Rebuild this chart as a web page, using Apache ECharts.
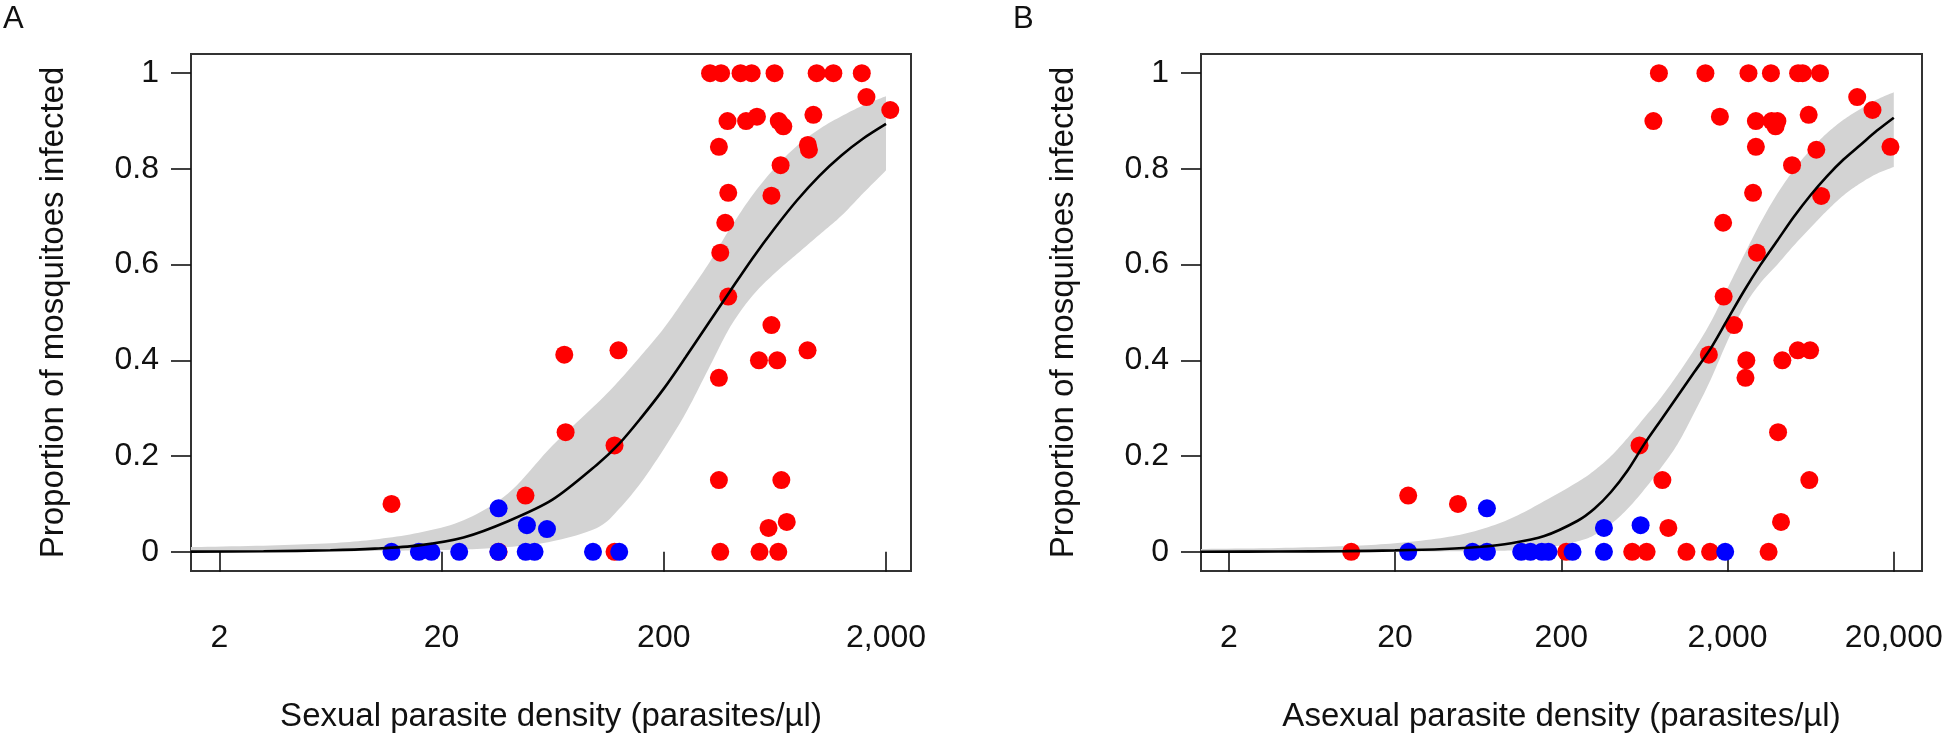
<!DOCTYPE html>
<html>
<head>
<meta charset="utf-8">
<script src="https://cdn.jsdelivr.net/npm/echarts@6/dist/echarts.min.js"></script>
<style>
html,body{margin:0;padding:0;background:#ffffff;}
#chart{width:1950px;height:738px;}
</style>
</head>
<body>
<div id="chart"></div>
<script>
// ---------------- data ----------------
const yTicks = [0, 0.2, 0.4, 0.6, 0.8, 1];
const yTickLabels = ['0', '0.2', '0.4', '0.6', '0.8', '1'];
const xTicksA = [2, 20, 200, 2000];
const xTickLabelsA = ['2', '20', '200', '2,000'];
const xTicksB = [2, 20, 200, 2000, 20000];
const xTickLabelsB = ['2', '20', '200', '2,000', '20,000'];

// Panel A: sexual parasite density vs proportion infected
const redA = [
  [323,1],[362,1],[443,1],[497,1],[630,1],[975,1],[1159,1],[1556,1],
  [1633,0.95],[2090,0.923],
  [387,0.9],[469,0.9],[525,0.909],[658,0.9],[690,0.889],[942,0.913],
  [354,0.846],[890,0.85],[900,0.84],
  [671,0.8077],[390,0.75],[610,0.744],[378,0.6875],[359,0.625],[390,0.5333],
  [610,0.4737],[125,0.4211],[887,0.4211],[71.3,0.4118],[536,0.4],[648,0.4],
  [354,0.3636],[72.3,0.25],[120,0.2222],[354,0.15],[676,0.15],
  [47.7,0.1176],[11.9,0.1],[715,0.0625],[592,0.05],
  [36.1,0],[120,0],[359,0],[539,0],[655,0]
];
const blueA = [
  [11.9,0],[15.8,0],[18.0,0],[24.0,0],[36.0,0],[47.8,0],[52.4,0],[96,0],[126,0],
  [36.1,0.0909],[48.4,0.0556],[59.6,0.0476]
];
// Fitted curve A and its confidence band
const curveXA = [1.49,3.16,6.31,10,15.8,25.1,39.8,63.1,100,126,158,200,251,316,398,501,631,794,1000,1259,1585,2000];
const curveYA = [0.0004,0.0012,0.0033,0.0067,0.0135,0.030,0.064,0.109,0.182,0.226,0.280,0.341,0.407,0.476,0.545,0.613,0.676,0.734,0.785,0.828,0.864,0.894];
const bandLoA = [0.000,0.000,0.001,0.002,0.003,0.005,0.010,0.022,0.050,0.090,0.145,0.215,0.290,0.380,0.470,0.535,0.582,0.622,0.662,0.702,0.750,0.797];
const bandHiA = [0.010,0.013,0.018,0.026,0.040,0.066,0.122,0.222,0.310,0.358,0.410,0.467,0.532,0.600,0.676,0.745,0.802,0.848,0.883,0.910,0.933,0.952];

// Panel B: asexual parasite density vs proportion infected
const redB = [
  [773,1],[1472,1],[2673,1],[3648,1],[5316,1],[5662,1],[7194,1],
  [12050,0.95],[14890,0.923],[19100,0.8462],
  [716,0.9],[1799,0.9091],[2962,0.9],[3681,0.9],[3990,0.9],[3890,0.889],[6152,0.913],
  [2962,0.846],[6839,0.84],[4887,0.8077],[2848,0.75],[7318,0.7436],
  [1882,0.6875],[3003,0.625],[1895,0.5333],[2188,0.4737],
  [5291,0.4211],[6276,0.4211],[1544,0.4118],[2594,0.4],[4272,0.4],[2564,0.3636],
  [4027,0.25],[591,0.2222],[811,0.15],[6209,0.15],[24.0,0.1176],[47.8,0.1],
  [4195,0.0625],[881,0.05],
  [10.9,0],[214,0],[534,0],[652,0],[1132,0],[1570,0],[3532,0]
];
const blueB = [
  [24.0,0],[58.5,0],[71.4,0],[114.8,0],[130.6,0],[152.6,0],[167.5,0],[233.7,0],[361,0],[1936,0],
  [71.4,0.0909],[361,0.05],[600,0.0556]
];
const curveXB = [1.36,3.98,10,20,39.8,63.1,100,158,251,316,398,501,631,794,1000,1259,1585,1995,2512,3162,3981,5012,6310,7943,10000,12589,15849,20000];
const curveYB = [0.0003,0.0007,0.0015,0.003,0.006,0.010,0.018,0.033,0.065,0.090,0.125,0.170,0.225,0.275,0.325,0.375,0.425,0.485,0.545,0.600,0.650,0.700,0.745,0.785,0.820,0.850,0.880,0.907];
const bandLoB = [0.000,0.000,0.000,0.001,0.001,0.002,0.003,0.008,0.022,0.035,0.058,0.090,0.130,0.175,0.225,0.290,0.360,0.440,0.512,0.562,0.600,0.640,0.677,0.713,0.745,0.770,0.790,0.804];
const bandHiB = [0.006,0.008,0.012,0.018,0.030,0.045,0.070,0.106,0.146,0.170,0.200,0.238,0.280,0.322,0.370,0.422,0.480,0.550,0.620,0.688,0.748,0.798,0.840,0.875,0.903,0.925,0.945,0.960];

// ---------------- chart ----------------
const FONT = 'Liberation Sans, Arial, sans-serif';
const TXT = '#111111';
const FS = 32;
const FST = 33;

function pairs(xs, ys) { return xs.map((x, i) => [x, ys[i]]); }

// smooth a pixel-space polyline (Catmull-Rom rendered as many short segments)
function smoothPix(pts, steps) {
  const out = [];
  const n = pts.length;
  for (let i = 0; i < n - 1; i++) {
    const p0 = pts[Math.max(i - 1, 0)], p1 = pts[i], p2 = pts[i + 1], p3 = pts[Math.min(i + 2, n - 1)];
    const c1 = [p1[0] + (p2[0] - p0[0]) / 6, p1[1] + (p2[1] - p0[1]) / 6];
    const c2 = [p2[0] - (p3[0] - p1[0]) / 6, p2[1] - (p3[1] - p1[1]) / 6];
    for (let s = 0; s < steps; s++) {
      const t = s / steps, u = 1 - t;
      out.push([
        u*u*u*p1[0] + 3*u*u*t*c1[0] + 3*u*t*t*c2[0] + t*t*t*p2[0],
        u*u*u*p1[1] + 3*u*u*t*c1[1] + 3*u*t*t*c2[1] + t*t*t*p2[1]
      ]);
    }
  }
  out.push(pts[n - 1]);
  return out;
}

function xAxisDef(gi, min, max, ticks, labels, name) {
  return {
    type: 'log', logBase: 10, gridIndex: gi, min: min, max: max,
    axisLine: { show: false },
    axisTick: { show: true, length: 20, customValues: ticks, lineStyle: { color: TXT, width: 1.6 } },
    axisLabel: {
      customValues: ticks, margin: 51, fontSize: FS, color: TXT, fontFamily: FONT,
      formatter: function (v) { const k = ticks.findIndex(t => Math.abs(t - v) / t < 1e-6); return k >= 0 ? labels[k] : ''; }
    },
    splitLine: { show: false },
    name: name, nameLocation: 'middle', nameGap: 129,
    nameTextStyle: { fontSize: FST, color: TXT, fontFamily: FONT }
  };
}
function yAxisDef(gi) {
  return {
    type: 'value', gridIndex: gi, min: -0.04, max: 1.04,
    axisLine: { show: false },
    axisTick: { show: true, length: 20, customValues: yTicks, lineStyle: { color: TXT, width: 1.6 } },
    axisLabel: {
      customValues: yTicks, margin: 32, fontSize: FS, color: TXT, fontFamily: FONT,
      formatter: function (v) { const k = yTicks.findIndex(t => Math.abs(t - v) < 1e-6); return k >= 0 ? yTickLabels[k] : ''; }
    },
    splitLine: { show: false },
    name: 'Proportion of mosquitoes infected', nameLocation: 'middle', nameGap: 121, nameRotate: 90,
    nameTextStyle: { fontSize: FST, color: TXT, fontFamily: FONT }
  };
}
function bandSeries(gi, xs, lo, hi) {
  return {
    type: 'custom', xAxisIndex: gi, yAxisIndex: gi, silent: true, z: 1, clip: true,
    data: [[xs[0], lo[0]]],
    renderItem: function (params, api) {
      const up = [], dn = [];
      for (let i = 0; i < xs.length; i++) up.push(api.coord([xs[i], hi[i]]));
      for (let i = xs.length - 1; i >= 0; i--) dn.push(api.coord([xs[i], lo[i]]));
      const pts = smoothPix(up, 10).concat(smoothPix(dn, 10));
      return { type: 'polygon', shape: { points: pts }, style: { fill: '#d3d3d3', stroke: null } };
    }
  };
}
function panelSeries(gi, red, blue, cx, cy, lo, hi) {
  return [
    bandSeries(gi, cx, lo, hi),
    { type: 'scatter', xAxisIndex: gi, yAxisIndex: gi, data: red, symbol: 'circle', symbolSize: 18,
      itemStyle: { color: '#ff0000', opacity: 1 }, z: 2 },
    { type: 'scatter', xAxisIndex: gi, yAxisIndex: gi, data: blue, symbol: 'circle', symbolSize: 18,
      itemStyle: { color: '#0000ff', opacity: 1 }, z: 3 },
    { type: 'line', xAxisIndex: gi, yAxisIndex: gi, data: pairs(cx, cy), smooth: 0.3,
      showSymbol: false, symbol: 'none', lineStyle: { color: '#000000', width: 2.6 }, z: 4 }
  ];
}

const chart = echarts.init(document.getElementById('chart'), null, { renderer: 'canvas' });
chart.setOption({
  animation: false,
  backgroundColor: '#ffffff',
  grid: [
    { left: 191, top: 54, width: 720, height: 518, show: true, borderColor: '#333333', borderWidth: 2, backgroundColor: 'transparent' },
    { left: 1201, top: 54, width: 721, height: 518, show: true, borderColor: '#333333', borderWidth: 2, backgroundColor: 'transparent' }
  ],
  xAxis: [
    xAxisDef(0, 1.49, 2591, xTicksA, xTickLabelsA, 'Sexual parasite density (parasites/µl)'),
    xAxisDef(1, 1.361, 29560, xTicksB, xTickLabelsB, 'Asexual parasite density (parasites/µl)')
  ],
  yAxis: [yAxisDef(0), yAxisDef(1)],
  graphic: [
    { type: 'text', left: 3, top: 4, style: { text: 'A', fontSize: 31, fill: TXT, fontFamily: FONT } },
    { type: 'text', left: 1013, top: 4, style: { text: 'B', fontSize: 31, fill: TXT, fontFamily: FONT } }
  ],
  series: [].concat(
    panelSeries(0, redA, blueA, curveXA, curveYA, bandLoA, bandHiA),
    panelSeries(1, redB, blueB, curveXB, curveYB, bandLoB, bandHiB)
  )
});
</script>
</body>
</html>
